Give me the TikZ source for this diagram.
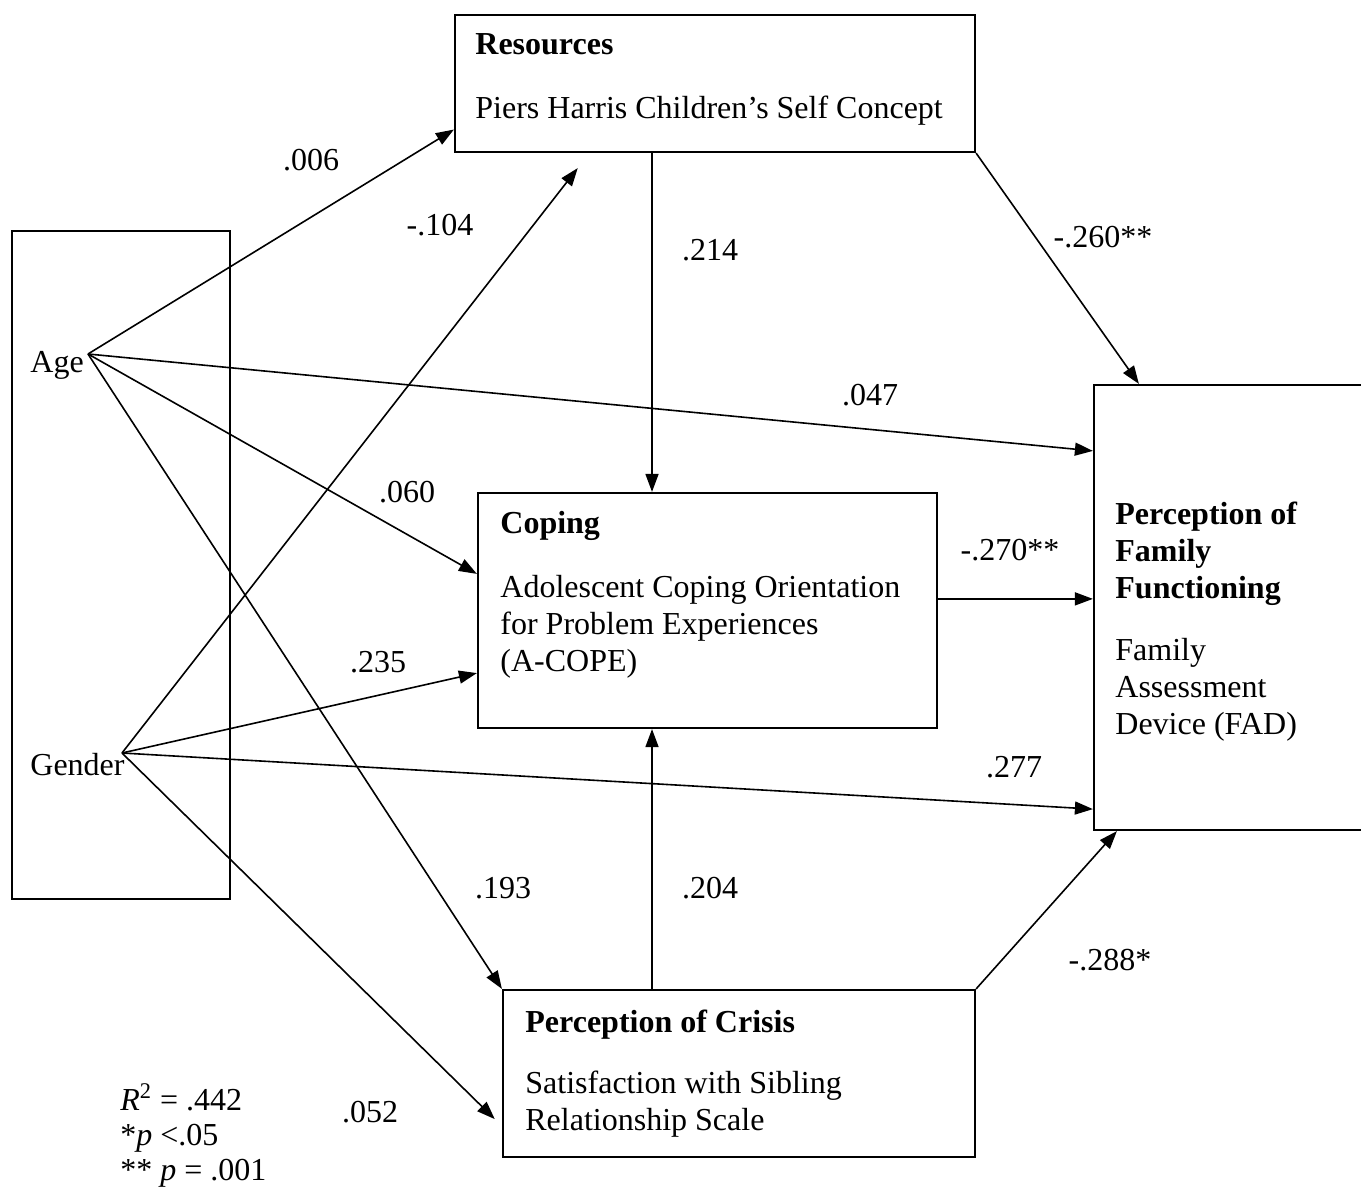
\documentclass[tikz,border=0pt]{standalone}
\usepackage{fontspec}
\setmainfont{Liberation Serif}
\usetikzlibrary{arrows.meta}

\tikzset{
    box/.style={draw, line width=1.1pt, inner sep=0pt},
    txt/.style={inner sep=0pt, anchor=north west, align=left},
    head/.style={txt, font=\fontsize{16}{18.5}\selectfont\bfseries},
    coef/.style={inner sep=0pt},
    link/.style={line width=0.8pt, -{Triangle[length=9pt, width=6.5pt]}}
}

\begin{document}
\begin{tikzpicture}[x=0.5pt, y=-0.5pt, font=\fontsize{16}{18.5}\selectfont]
        \useasboundingbox (0,0) rectangle (1361,1188);

        % boxes
        \node[box, minimum width=109pt, minimum height=334pt] (demo) at (121,565) {};
        \node[box, minimum width=260pt, minimum height=68.5pt] (res) at (715,83.5) {};
        \node[box, minimum width=229.5pt, minimum height=117.5pt] (cop) at (707.5,610.5) {};
        \node[box, minimum width=140.5pt, minimum height=222.5pt] (fam) at (1234.5,607.5) {};
        \node[box, minimum width=236pt, minimum height=83.5pt] (cri) at (739,1073.5) {};

        % box texts
        \node[head] (resHead) at (475,33) {Resources};
        \node[txt] (resBody) at (475,96) {Piers Harris Children’s Self Concept};
        \node[head] (copHead) at (500,511) {Coping};
        \node[txt] (copBody) at (500,575) {Adolescent Coping Orientation\\for Problem Experiences\\(A-COPE)};
        \node[head] (famHead) at (1115,502) {Perception of\\Family\\Functioning};
        \node[txt] (famBody) at (1115,638) {Family\\Assessment\\Device (FAD)};
        \node[head] (criHead) at (525,1010) {Perception of Crisis};
        \node[txt] (criBody) at (525,1071) {Satisfaction with Sibling\\Relationship Scale};

        \node[inner sep=0pt, anchor=base west] (age) at (30,372) {Age};
        \node[inner sep=0pt, anchor=base west] (gender) at (30,775) {Gender};
        \coordinate (ageP) at (88,354);
        \coordinate (genP) at (122,753);
        \coordinate (midX) at (652,0);

        % paths
        \draw[link] (ageP) -- (res.190.8);
        \draw[link] (ageP) -- ([yshift=-33.5pt]fam.north west);
        \draw[link] (ageP) -- ([yshift=-41pt]cop.north west);
        \draw[link] (ageP) -- (cri.north west);

        \draw[link, shorten >=9.5pt] (genP) -- (res.209.7);
        \draw[link] (genP) -- ([yshift=28pt]cop.south west);
        \draw[link] (genP) -- ([yshift=11pt]fam.south west);
        \draw[link, shorten >=5pt] (genP) -- ([yshift=16pt]cri.south west);

        \draw[link] (res.south -| midX) -- (cop.north -| midX);
        \draw[link] (res.south east) -- ([xshift=23pt]fam.north west);
        \draw[link] ([yshift=-53.5pt]cop.north east) -- ([yshift=-53.5pt]cop.north east -| fam.west);
        \draw[link] (cri.north -| midX) -- (cop.south -| midX);
        \draw[link] (cri.north east) -- ([xshift=12pt]fam.south west);

        % coefficients
        \node[coef] (cAgeRes) at (311,160) {.006};
        \node[coef] (cGenRes) at (440,225) {-.104};
        \node[coef] (cResCop) at (710,250) {.214};
        \node[coef] (cResFam) at (1103,237) {-.260**};
        \node[coef] (cAgeFam) at (870,395) {.047};
        \node[coef] (cAgeCop) at (407,492) {.060};
        \node[coef] (cCopFam) at (1010,550) {-.270**};
        \node[coef] (cGenCop) at (378,662) {.235};
        \node[coef] (cGenFam) at (1014,767) {.277};
        \node[coef] (cAgeCri) at (503,888) {.193};
        \node[coef] (cCriCop) at (710,888) {.204};
        \node[coef] (cCriFam) at (1110,960) {-.288*};
        \node[coef] (cGenCri) at (370,1112) {.052};

        \node[txt, font=\fontsize{16}{17.5}\selectfont] (legend) at (120,1083)
            {\textit{R}\textsuperscript{2} = .442\\*\textit{p} <.05\\** \textit{p} = .001};

\end{tikzpicture}
\end{document}
